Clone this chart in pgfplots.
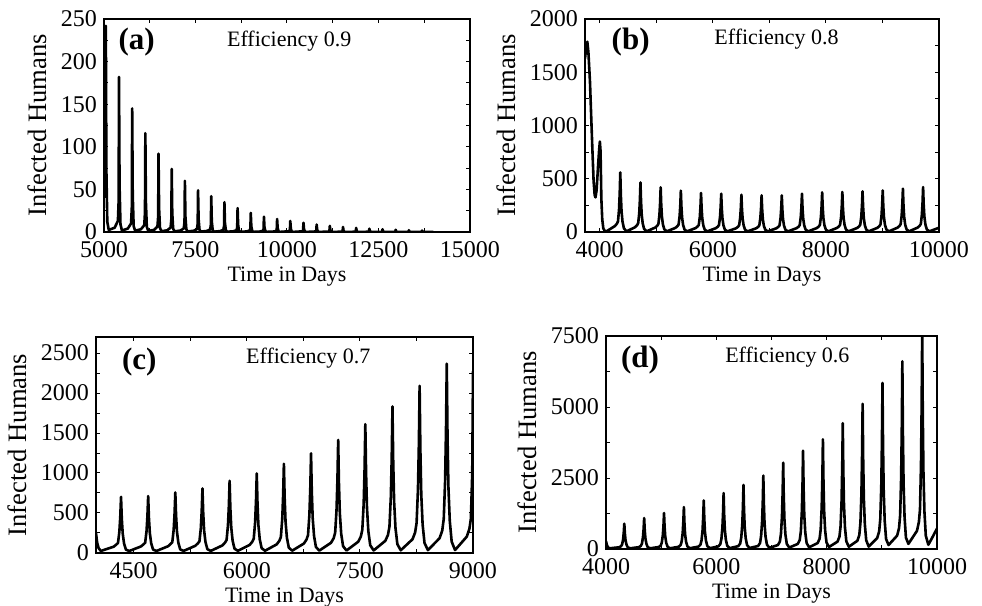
\documentclass[border=0pt]{standalone}
\usepackage{fontspec}
\setmainfont{Liberation Serif}
\usepackage{pgfplots}
\pgfplotsset{compat=1.18}
\pgfplotsset{
  panel/.style={
    scale only axis,
    anchor=south west,
    axis line style={line width=0.6pt},
    every tick/.style={line width=0.5pt, black},
    major tick length=2.2pt, minor tick length=2.2pt,
    tick align=inside,
    minor x tick num=1, minor y tick num=1,
    scaled ticks=false,
    /pgf/number format/assume math mode=true,
    /pgf/number format/1000 sep={},
    xticklabel style={font=\fontsize{12}{14}\selectfont, yshift=-1pt},
    yticklabel style={font=\fontsize{12}{14}\selectfont},
    xlabel style={font=\fontsize{11}{13}\selectfont, yshift=1.8pt},
    ylabel style={font=\fontsize{13.3}{15}\selectfont},
    xlabel={Time in Days},
    ylabel={Infected Humans},
    ymin=0,
  },
  curve/.style={black, line width=1.3pt, line join=round, no markers},
}
\tikzset{
  tag/.style={font=\fontsize{15.5}{18}\selectfont\bfseries},
  eff/.style={font=\fontsize{11}{13}\selectfont},
}
\begin{document}
\begin{tikzpicture}
\useasboundingbox (0,0) rectangle (491pt,303pt);

% (a)
\begin{axis}[panel, at={(52pt,187pt)}, width=183pt, height=106.5pt,
  xmin=5000, xmax=15000, ymax=250,
  xtick={5000,7500,10000,12500,15000}, ytick={0,50,100,150,200,250}]
\addplot[curve] coordinates {
(5000,40) (5030,150) (5050,242) (5065,73) (5090,12) (5130,2.4)
(5290,5) (5380,13) (5400,36) (5410,182) (5425,55) (5450,9) (5490,1.8)
(5650,4) (5740,10) (5760,29) (5770,145) (5785,44) (5810,7) (5850,1.5)
(6010,3.2) (6100,8) (6120,23) (6130,116) (6145,35) (6170,6) (6210,1.2)
(6370,2.5) (6460,6.4) (6480,18) (6490,92) (6505,28) (6530,4.6) (6570,0.9)
(6730,2) (6820,5.2) (6840,15) (6850,74) (6865,22) (6890,3.7) (6930,0.7)
(7090,1.7) (7180,4.2) (7200,12) (7210,60) (7225,18) (7250,3) (7290,0.6)
(7450,1.4) (7540,3.4) (7560,10) (7570,49) (7585,15) (7610,2.5) (7650,0.5)
(7810,1.2) (7900,2.9) (7920,8.4) (7930,42) (7945,12.6) (7970,2.1) (8010,0.4)
(8170,1) (8260,2.5) (8280,7) (8290,35) (8305,10.5) (8330,1.8) (8370,0.35)
(8530,0.8) (8620,2) (8640,5.6) (8650,28) (8665,8.4) (8690,1.4) (8730,0.3)
(8890,0.6) (8980,1.6) (9000,4.5) (9010,22.5) (9025,6.8) (9050,1.1) (9090,0.2)
(9250,0.5) (9340,1.3) (9360,3.6) (9370,18) (9385,5.4) (9410,0.9) (9450,0.2)
(9610,0.4) (9700,1.1) (9720,3.1) (9730,15.3) (9745,4.6) (9770,0.8) (9810,0.15)
(10060,0.9) (10080,2.6) (10090,12.9) (10105,3.9) (10130,0.6) (10170,0.1)
(10420,0.8) (10440,2.2) (10450,10.8) (10465,3.2) (10490,0.5) (10530,0.1)
(10780,0.6) (10800,1.8) (10810,8.8) (10825,2.6) (10850,0.4) (10890,0.1)
(11140,0.5) (11160,1.4) (11170,7.2) (11185,2.2) (11210,0.3) (11250,0.05)
(11500,0.4) (11520,1.2) (11530,5.9) (11545,1.8) (11570,0.3) (11610,0.05)
(11860,0.3) (11880,1) (11890,4.8) (11905,1.4) (11930,0.2) (11970,0.05)
(12220,0.3) (12240,0.8) (12250,3.9) (12265,1.2) (12290,0.2) (12330,0.05)
(12580,0.2) (12600,0.6) (12610,3.2) (12625,1) (12650,0.15) (12690,0.05)
(12940,0.2) (12960,0.5) (12970,2.6) (12985,0.8) (13010,0.1) (13050,0.05)
(13300,0.15) (13320,0.4) (13330,2.1) (13345,0.6) (13370,0.1) (13410,0.05)
(13660,0.1) (13680,0.35) (13690,1.7) (13705,0.5) (13730,0.1) (13770,0.05)
(14000,0.05)
};
\node[tag] at (rel axis cs:0.089,0.893) {(a)};
\node[eff] at (rel axis cs:0.506,0.897) {Efficiency 0.9};
\end{axis}

% (b)
\begin{axis}[panel, at={(292.5pt,187pt)}, width=177pt, height=106.5pt,
  xmin=3740, xmax=10000, ymax=2000,
  xtick={4000,6000,8000,10000}, ytick={0,500,1000,1500,2000}]
\addplot[curve] coordinates {
(3740,1630) (3760,1720) (3781,1787) (3800,1690) (3828,1412) (3850,1080) (3870,786) (3892,480) (3911,347) (3925,325) (3945,390) (3962,540) (3976,660) (3990,770) (4003,850) (4015,760) (4029,316) (4045,120) (4064,34) (4090,10) (4120,6)
(4269,56) (4304,78) (4324,101) (4342,213) (4354,364) (4364,560) (4374,347) (4386,196) (4404,95) (4429,34) (4474,6)
(4626,45) (4661,64) (4681,84) (4699,177) (4711,303) (4721,466) (4731,289) (4743,163) (4761,79) (4786,28) (4831,6)
(4983,42) (5018,59) (5038,75) (5056,159) (5068,272) (5078,419) (5088,260) (5100,147) (5118,71) (5143,25) (5188,6)
(5340,39) (5375,55) (5395,70) (5413,147) (5425,252) (5435,388) (5445,241) (5457,136) (5475,66) (5500,23) (5545,6)
(5697,37) (5732,52) (5752,66) (5770,139) (5782,238) (5792,366) (5802,227) (5814,128) (5832,62) (5857,22) (5902,6)
(6054,36) (6089,50) (6109,65) (6127,137) (6139,234) (6149,360) (6159,223) (6171,126) (6189,61) (6214,22) (6259,6)
(6411,35) (6446,49) (6466,63) (6484,133) (6496,228) (6506,350) (6516,217) (6528,123) (6546,60) (6571,21) (6616,6)
(6768,35) (6803,49) (6823,62) (6841,131) (6853,224) (6863,344) (6873,213) (6885,120) (6903,58) (6928,21) (6973,6)
(7125,35) (7160,49) (7180,62) (7198,131) (7210,224) (7220,344) (7230,213) (7242,120) (7260,58) (7285,21) (7330,6)
(7482,36) (7517,50) (7537,65) (7555,137) (7567,234) (7577,360) (7587,223) (7599,126) (7617,61) (7642,22) (7687,6)
(7839,37) (7874,52) (7894,67) (7912,141) (7924,242) (7934,372) (7944,231) (7956,130) (7974,63) (7999,22) (8044,6)
(8196,38) (8231,53) (8251,68) (8269,143) (8281,244) (8291,376) (8301,233) (8313,132) (8331,64) (8356,23) (8401,6)
(8553,38) (8588,53) (8608,69) (8626,145) (8638,248) (8648,382) (8658,237) (8670,134) (8688,65) (8713,23) (8758,6)
(8910,39) (8945,55) (8965,70) (8983,149) (8995,254) (9005,391) (9015,242) (9027,137) (9045,66) (9070,23) (9115,6)
(9267,41) (9302,57) (9322,73) (9340,155) (9352,265) (9362,407) (9372,252) (9384,142) (9402,69) (9427,24) (9472,6)
(9624,42) (9659,59) (9679,76) (9697,160) (9709,274) (9719,422) (9729,262) (9741,148) (9759,72) (9784,25) (9829,6)
(10000,40)
};
\node[tag] at (rel axis cs:0.129,0.893) {(b)};
\node[eff] at (rel axis cs:0.541,0.905) {Efficiency 0.8};
\end{axis}

% (c)
\begin{axis}[panel, at={(48pt,26.5pt)}, width=188.5pt, height=108pt,
  xmin=4000, xmax=9000, ymax=2700,
  xtick={4500,6000,7500,9000}, ytick={0,500,1000,1500,2000,2500}]
\addplot[curve] coordinates {
(4000,250) (4015,130) (4035,60) (4065,25)
(4237,80) (4272,108) (4292,126) (4310,267) (4322,456) (4332,702) (4342,435) (4354,246) (4372,119) (4397,42) (4442,25)
(4597,82) (4632,110) (4652,128) (4670,270) (4682,462) (4692,711) (4702,441) (4714,249) (4732,121) (4757,43) (4802,25)
(4957,85) (4992,115) (5012,136) (5030,288) (5042,492) (5052,757) (5062,469) (5074,265) (5092,129) (5117,45) (5162,26)
(5317,90) (5352,122) (5372,145) (5390,307) (5402,525) (5412,807) (5422,500) (5434,282) (5452,137) (5477,48) (5522,26)
(5677,95) (5712,131) (5732,163) (5750,343) (5762,587) (5772,903) (5782,560) (5794,316) (5812,154) (5837,54) (5882,27)
(6037,100) (6072,140) (6092,179) (6110,378) (6122,647) (6132,995) (6142,617) (6154,348) (6172,169) (6197,60) (6242,28)
(6397,108) (6432,153) (6452,201) (6470,424) (6482,725) (6492,1116) (6502,692) (6514,391) (6532,190) (6557,67) (6602,29)
(6757,118) (6792,168) (6812,224) (6830,473) (6842,810) (6852,1246) (6862,773) (6874,436) (6892,212) (6917,75) (6962,30)
(7117,128) (7152,185) (7172,254) (7190,537) (7202,918) (7212,1413) (7222,876) (7234,495) (7252,240) (7277,85) (7322,31)
(7477,140) (7512,204) (7532,290) (7550,612) (7562,1047) (7572,1610) (7582,998) (7594,564) (7612,274) (7637,97) (7682,32)
(7837,152) (7872,225) (7892,330) (7910,696) (7922,1190) (7932,1831) (7942,1135) (7954,641) (7972,311) (7997,110) (8042,34)
(8197,171) (8232,255) (8252,376) (8270,794) (8282,1359) (8292,2090) (8302,1296) (8314,732) (8332,355) (8357,125) (8402,36)
(8557,185) (8592,280) (8612,426) (8630,899) (8642,1538) (8652,2366) (8662,1467) (8674,828) (8692,402) (8717,142) (8762,37)
(8917,204) (8952,300) (8972,430) (8990,1000) (9000,2270)
};
\node[tag] at (rel axis cs:0.115,0.886) {(c)};
\node[eff] at (rel axis cs:0.563,0.901) {Efficiency 0.7};
\end{axis}

% (d)
\begin{axis}[panel, at={(303pt,28.5pt)}, width=165.5pt, height=106.5pt,
  xmin=4000, xmax=10000, ymax=7500,
  xtick={4000,6000,8000,10000}, ytick={0,2500,5000,7500}]
\addplot[curve] coordinates {
(4000,280) (4015,150) (4035,60) (4065,25)
(4237,60) (4272,96) (4292,160) (4310,339) (4322,579) (4332,891) (4342,552) (4354,312) (4372,151) (4397,53) (4442,25)
(4597,65) (4632,109) (4652,196) (4670,414) (4682,709) (4692,1090) (4702,676) (4714,382) (4732,185) (4757,65) (4802,25)
(4957,70) (4992,121) (5012,228) (5030,481) (5042,823) (5052,1266) (5062,785) (5074,443) (5092,215) (5117,76) (5162,25)
(5317,78) (5352,137) (5372,266) (5390,561) (5402,960) (5412,1477) (5422,916) (5434,517) (5452,251) (5477,89) (5522,26)
(5677,85) (5712,153) (5732,308) (5750,650) (5762,1112) (5772,1711) (5782,1061) (5794,599) (5812,291) (5837,103) (5882,28)
(6037,92) (6072,171) (6092,354) (6110,748) (6122,1280) (6132,1969) (6142,1221) (6154,689) (6172,335) (6197,118) (6242,30)
(6397,100) (6432,190) (6452,406) (6470,858) (6482,1468) (6492,2258) (6502,1400) (6514,790) (6532,384) (6557,135) (6602,35)
(6757,106) (6792,209) (6812,465) (6830,983) (6842,1681) (6852,2586) (6862,1603) (6874,905) (6892,440) (6917,155) (6962,40)
(7117,140) (7152,262) (7172,547) (7190,1154) (7202,1975) (7212,3038) (7222,1884) (7234,1063) (7252,516) (7277,182) (7322,50)
(7477,180) (7512,318) (7532,623) (7550,1315) (7562,2249) (7572,3460) (7582,2145) (7594,1211) (7612,588) (7637,208) (7682,60)
(7837,210) (7872,364) (7892,695) (7910,1467) (7922,2509) (7932,3860) (7942,2393) (7954,1351) (7972,656) (7997,232) (8042,70)
(8197,260) (8232,437) (8252,797) (8270,1683) (8282,2878) (8292,4428) (8302,2745) (8314,1550) (8332,753) (8357,266) (8402,80)
(8557,290) (8592,494) (8612,920) (8630,1942) (8642,3322) (8652,5110) (8662,3168) (8674,1789) (8692,869) (8717,307) (8762,85)
(8917,390) (8952,624) (8972,1053) (8990,2223) (9002,3803) (9012,5850) (9022,3627) (9034,2048) (9052,995) (9077,351) (9122,140)
(9277,470) (9312,734) (9332,1190) (9350,2512) (9362,4297) (9372,6610) (9382,4098) (9394,2314) (9412,1124) (9437,397) (9482,180)
(9637,640) (9672,952) (9692,1404) (9710,2964) (9722,5070) (9732,7800) (9742,4836) (9754,2730) (9772,1326) (9797,468) (9843,150)
(9900,350) (10000,720)
};
\node[tag] at (rel axis cs:0.103,0.887) {(d)};
\node[eff] at (rel axis cs:0.548,0.9) {Efficiency 0.6};
\end{axis}
\end{tikzpicture}
\end{document}
